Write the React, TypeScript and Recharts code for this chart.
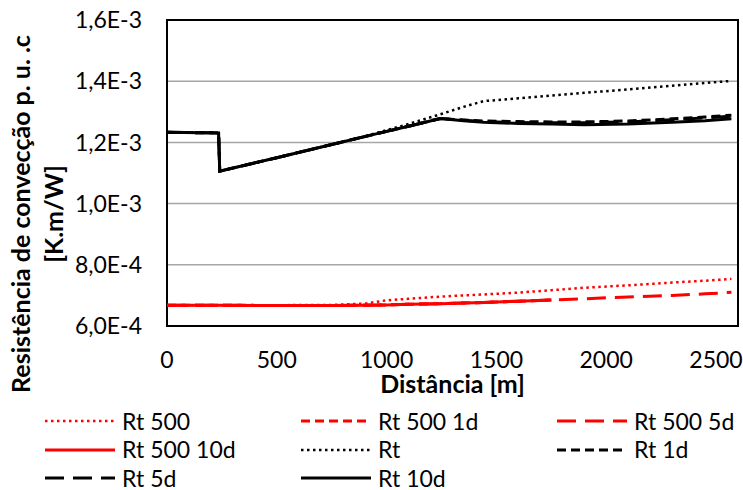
import { CartesianGrid, Legend, Line, LineChart, ReferenceArea, XAxis, YAxis } from 'recharts'

// distance along the line [m]
const distances = [0, 235, 240, 500, 750, 900, 1000, 1100, 1245, 1350, 1442, 1600, 1750, 1900, 2100, 2300, 2450, 2570]

// values in 1e-3 K.m/W
const rt500 = [0.668, 0.668, 0.668, 0.668, 0.669, 0.673, 0.684, 0.689, 0.696, 0.7, 0.703, 0.709, 0.717, 0.725, 0.733, 0.742, 0.748, 0.754]
const rt500_1d = [0.668, 0.668, 0.668, 0.667, 0.667, 0.668, 0.669, 0.671, 0.673, 0.675, 0.677, 0.681, 0.685, null, null, null, null, null]
const rt500_5d = [0.668, 0.668, 0.668, 0.667, 0.667, 0.668, 0.669, 0.671, 0.673, 0.675, 0.677, 0.681, 0.685, 0.689, 0.695, 0.7, 0.705, 0.71]
const rt500_10d = [0.668, 0.668, 0.668, 0.667, 0.667, 0.668, 0.669, 0.671, 0.673, 0.675, 0.677, 0.681, 0.685, null, null, null, null, null]
const rt = [1.233, 1.231, 1.106, 1.15, 1.193, 1.22, 1.24, 1.26, 1.292, 1.316, 1.335, 1.344, 1.353, 1.362, 1.373, 1.385, 1.394, 1.401]
const rt_1d = [1.233, 1.231, 1.106, 1.15, 1.193, 1.219, 1.236, 1.253, 1.278, 1.273, 1.27, 1.268, 1.267, 1.267, 1.27, 1.277, 1.283, 1.289]
const rt_5d = [1.233, 1.231, 1.106, 1.15, 1.193, 1.219, 1.236, 1.253, 1.278, 1.272, 1.268, 1.265, 1.264, 1.264, 1.267, 1.274, 1.28, 1.286]
const rt_10d = [1.233, 1.231, 1.106, 1.15, 1.193, 1.219, 1.236, 1.253, 1.278, 1.271, 1.266, 1.262, 1.26, 1.258, 1.26, 1.266, 1.271, 1.277]

const xTicks = [0, 500, 1000, 1500, 2000, 2500]
const yTicks = [0.6, 0.8, 1.0, 1.2, 1.4, 1.6]

const series = [
  { key: 'rt500', name: 'Rt 500', values: rt500, color: '#ff0000', dash: '2.5 3.5', width: 2.5 },
  { key: 'rt500_1d', name: 'Rt 500 1d', values: rt500_1d, color: '#ff0000', dash: '9 5', width: 3 },
  { key: 'rt500_5d', name: 'Rt 500 5d', values: rt500_5d, color: '#ff0000', dash: '19 9', width: 3 },
  { key: 'rt500_10d', name: 'Rt 500 10d', values: rt500_10d, color: '#ff0000', dash: undefined, width: 3 },
  { key: 'rt', name: 'Rt', values: rt, color: '#000000', dash: '2.5 3.5', width: 2.5 },
  { key: 'rt_1d', name: 'Rt 1d', values: rt_1d, color: '#000000', dash: '9 5', width: 3 },
  { key: 'rt_5d', name: 'Rt 5d', values: rt_5d, color: '#000000', dash: '19 9', width: 3 },
  { key: 'rt_10d', name: 'Rt 10d', values: rt_10d, color: '#000000', dash: undefined, width: 3 },
]

const data = distances.map((d, i) => {
  const row: Record<string, number | null> = { d }
  series.forEach((s) => {
    row[s.key] = s.values[i]
  })
  return row
})

const fmtY = (v: number) => (v * 1e-3).toExponential(1).replace('.', ',').replace('e', 'E')

const YTitle = (props: any) => {
  const vb = props.viewBox
  const cy = vb.y + vb.height / 2 + 41
  const style = { fontSize: 25, fontWeight: 700, fill: '#000' }
  return (
    <g>
      <text x={vb.x + 20} y={cy} transform={`rotate(-90 ${vb.x + 20} ${cy})`} textAnchor="middle" dominantBaseline="central" style={style}>
        Resistência de convecção p. u. .c
      </text>
      <text x={vb.x + 53} y={cy} transform={`rotate(-90 ${vb.x + 53} ${cy})`} textAnchor="middle" dominantBaseline="central" style={style}>
        [K.m/W]
      </text>
    </g>
  )
}

const LegendBox = () => (
  <div style={{ position: 'relative', height: 82, width: 743 }}>
    {series.map((s, i) => (
      <div
        key={s.key}
        style={{
          position: 'absolute',
          left: 45 + (i % 3) * 256,
          top: Math.floor(i / 3) * 28.5,
          height: 26,
          display: 'flex',
          alignItems: 'center',
        }}
      >
        <svg width={70} height={10}>
          <line x1={0} y1={5} x2={70} y2={5} stroke={s.color} strokeWidth={s.width} strokeDasharray={s.dash} />
        </svg>
        <span style={{ marginLeft: 7, fontSize: 23, lineHeight: 1, color: '#000', whiteSpace: 'nowrap' }}>{s.name}</span>
      </div>
    ))}
  </div>
)

export default function App() {
  return (
    <div style={{ position: 'absolute', left: 0, top: 0, fontFamily: 'Lato, sans-serif', background: '#fff' }}>
      <LineChart width={743} height={490} data={data} margin={{ top: 20, right: 5, left: 0, bottom: 0 }}>
        <CartesianGrid vertical={false} stroke="#a6a6a6" strokeWidth={1.5} />
        <XAxis
          dataKey="d"
          type="number"
          domain={[0, 2600]}
          ticks={xTicks}
          tickLine={false}
          axisLine={false}
          tickSize={0}
          tickMargin={26}
          height={82}
          tick={{ fill: '#000', fontSize: 23 }}
          label={{ value: 'Distância [m]', position: 'insideBottom', offset: 15, style: { fontSize: 25, fontWeight: 700, fill: '#000' } }}
        />
        <YAxis
          type="number"
          domain={[0.6, 1.6]}
          ticks={yTicks}
          tickFormatter={fmtY}
          tickLine={false}
          axisLine={false}
          tickSize={0}
          tickMargin={25}
          width={167}
          tick={{ fill: '#000', fontSize: 23 }}
          label={YTitle}
        />
        <ReferenceArea x1={0} x2={2600} y1={0.6} y2={1.6} fill="none" stroke="#000" strokeWidth={2} />
        <Legend verticalAlign="bottom" content={LegendBox} wrapperStyle={{ left: 0, width: 743 }} />
        {series.map((s) => (
          <Line
            key={s.key}
            dataKey={s.key}
            name={s.name}
            type="linear"
            stroke={s.color}
            strokeWidth={s.width}
            strokeDasharray={s.dash}
            dot={false}
            activeDot={false}
            isAnimationActive={false}
          />
        ))}
      </LineChart>
    </div>
  )
}
